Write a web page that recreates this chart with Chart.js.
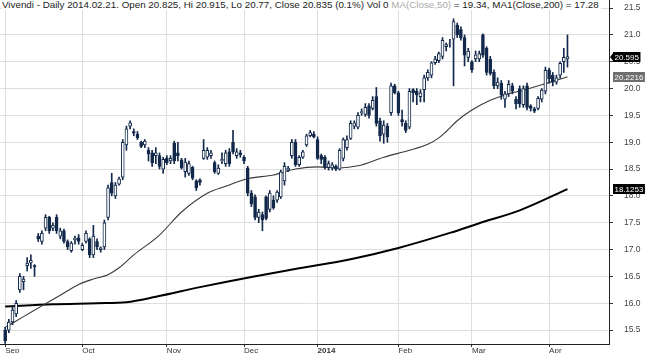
<!DOCTYPE html>
<html>
<head>
<meta charset="utf-8">
<script src="https://cdn.jsdelivr.net/npm/chart.js@4.4.1/dist/chart.umd.min.js"></script>
<style>
  html, body { margin: 0; padding: 0; background: #fff; }
  #wrap { position: relative; width: 645px; height: 353px; }
  #title {
    position: absolute; left: 2px; top: -1px;
    font: 9.8px 'Liberation Sans', Arial, sans-serif; line-height: 11px;
    color: #222; background: #fff; white-space: nowrap; padding-right: 2px;
  }
  #title .ma { color: #aaa; }
</style>
</head>
<body>
<div id="wrap">
  <canvas id="chart" width="645" height="353"></canvas>
  <div id="title">Vivendi - Daily 2014.02.21. Open 20.825, Hi 20.915, Lo 20.77, Close 20.835 (0.1%) Vol 0 <span class="ma">MA(Close,50)</span> = 19.34, MA1(Close,200) = 17.28</div>
</div>
<script>
// trading days from 2 Sep 2013 to 7 Apr 2014, index 0..153
const monthIdx = [0, 21, 44, 65, 85, 107, 127, 148];
const monthLabels = ['Sep', 'Oct', 'Nov', 'Dec', '2014', 'Feb', 'Mar', 'Apr'];
const yTicks = [15.5, 16.0, 16.5, 17.0, 17.5, 18.0, 18.5, 19.0, 19.5, 20.0, 20.5, 21.0, 21.5];

const open = [
  15.5, 15.5, 15.65, 15.8, 16.25, 16.4, 16.7, 16.75, 16.7, 17.25, 17.15, 17.4, 17.6, 17.4, 17.6, 17.25, 17.35, 17.15, 16.98, 17.18, 17.22,
  17.0, 17.15, 17.2, 16.9, 17.15, 17.0, 17.05, 17.6, 18.25, 18.0, 18.22, 18.35, 18.95, 19.3, 19.2, 19.15, 19.0, 18.95, 18.85, 18.8, 18.75, 18.75, 18.5,
  18.7, 18.65, 18.98, 18.8, 18.67, 18.45, 18.42, 18.53, 18.28, 18.3, 18.7, 18.72, 18.75, 18.62, 18.42, 18.65, 18.6, 18.82, 19.0, 18.75, 18.8,
  18.72, 18.52, 18.05, 17.98, 17.6, 17.65, 17.98, 17.75, 17.92, 17.92, 17.98, 18.28, 18.48, 18.75, 19.0, 18.58, 18.72, 18.95, 19.12, 19.15,
  19.05, 18.75, 18.72, 18.53, 18.52, 18.55, 18.5, 18.7, 18.9, 19.07, 19.3, 19.28, 19.55, 19.52, 19.68, 19.63, 19.85, 19.4, 19.15, 19.3, 19.55, 20.05,
  19.92, 19.42, 19.35, 19.28, 19.98, 19.95, 19.85, 19.98, 20.2, 20.25, 20.48, 20.52, 20.6, 20.78, 20.825, 20.92, 21.18, 21.1, 20.95, 20.58,
  20.5, 20.55, 20.55, 21.0, 20.75, 20.55, 20.3, 20.05, 20.1, 19.8, 19.9, 20.05, 19.8, 20.0, 19.7, 20.05, 19.68, 19.62, 19.63, 19.8, 19.95,
  20.35, 20.25, 20.12, 20.25, 20.5, 20.55
];
const high = [
  15.55, 15.7, 15.95, 16.05, 16.55, 16.5, 16.85, 16.9, 16.72, 17.3, 17.35, 17.65, 17.62, 17.5, 17.65, 17.4, 17.38, 17.18, 17.15, 17.25, 17.28,
  17.12, 17.35, 17.22, 17.45, 17.2, 17.05, 17.55, 18.2, 18.42, 18.25, 18.35, 19.05, 19.3, 19.4, 19.25, 19.2, 19.02, 19.05, 18.9, 18.85, 18.9, 18.8, 18.72,
  18.75, 18.75, 19.02, 19.0, 18.7, 18.7, 18.65, 18.55, 18.3, 18.32, 19.05, 18.9, 18.85, 18.65, 18.58, 18.8, 18.85, 18.88, 19.22, 18.88, 18.85,
  18.75, 18.55, 18.1, 18.02, 17.75, 17.7, 18.0, 18.1, 18.0, 18.1, 18.48, 18.62, 18.55, 19.05, 19.05, 18.75, 18.85, 19.15, 19.22, 19.2,
  19.1, 18.78, 18.75, 18.65, 18.62, 18.58, 18.88, 19.08, 19.12, 19.4, 19.4, 19.55, 19.62, 19.72, 19.72, 19.85, 20.02, 19.45, 19.4, 19.35, 20.1, 20.08,
  19.95, 19.6, 19.4, 20.0, 20.0, 20.0, 19.98, 20.25, 20.35, 20.5, 20.6, 20.68, 20.95, 20.85, 20.915, 21.3, 21.22, 21.15, 21.0, 20.75,
  20.52, 20.7, 20.7, 21.02, 20.78, 20.6, 20.35, 20.2, 20.15, 19.95, 20.15, 20.1, 19.85, 20.05, 20.05, 20.1, 19.7, 19.65, 19.85, 20.0, 20.4,
  20.38, 20.3, 20.25, 20.5, 20.75, 21.0
];
const low = [
  15.25, 15.45, 15.6, 15.75, 16.2, 16.25, 16.6, 16.65, 16.5, 17.15, 17.1, 17.35, 17.3, 17.35, 17.3, 17.2, 17.12, 17.0, 16.95, 17.1, 17.1,
  16.98, 17.12, 16.85, 16.85, 17.0, 16.95, 17.0, 17.55, 18.0, 17.95, 18.2, 18.3, 18.85, 19.25, 19.12, 19.05, 18.9, 18.9, 18.65, 18.55, 18.6, 18.5, 18.42,
  18.58, 18.6, 18.6, 18.65, 18.5, 18.35, 18.38, 18.3, 18.1, 18.2, 18.68, 18.68, 18.7, 18.42, 18.4, 18.6, 18.55, 18.55, 18.78, 18.7, 18.72,
  18.6, 18.0, 17.8, 17.55, 17.5, 17.35, 17.55, 17.7, 17.75, 17.88, 17.95, 18.2, 18.45, 18.7, 18.55, 18.55, 18.7, 18.92, 19.1, 19.08,
  18.68, 18.6, 18.5, 18.48, 18.48, 18.47, 18.48, 18.65, 18.85, 19.05, 19.25, 19.25, 19.5, 19.48, 19.45, 19.6, 19.3, 19.02, 18.98, 19.0, 19.5, 19.9,
  19.5, 19.3, 19.18, 19.25, 19.75, 19.7, 19.75, 19.75, 20.15, 20.2, 20.45, 20.48, 20.55, 20.7, 20.77, 20.05, 20.95, 20.9, 20.42, 20.5,
  20.3, 20.5, 20.5, 20.58, 20.25, 20.25, 20.0, 20.0, 19.8, 19.65, 19.85, 19.9, 19.62, 19.65, 19.65, 19.6, 19.58, 19.55, 19.6, 19.75, 19.9,
  20.1, 20.05, 20.08, 20.2, 20.3, 20.4
];
const close = [
  15.3, 15.65, 15.87, 16.0, 16.5, 16.45, 16.75, 16.8, 16.68, 17.2, 17.3, 17.6, 17.35, 17.45, 17.35, 17.35, 17.15, 17.05, 17.12, 17.22, 17.15,
  17.08, 17.3, 16.9, 17.25, 17.05, 17.03, 17.5, 18.15, 18.05, 18.2, 18.32, 19.0, 19.25, 19.36, 19.17, 19.08, 18.92, 19.02, 18.78, 18.62, 18.8, 18.55, 18.68,
  18.62, 18.7, 18.65, 18.75, 18.52, 18.63, 18.6, 18.33, 18.15, 18.25, 18.85, 18.85, 18.8, 18.45, 18.52, 18.68, 18.8, 18.6, 18.82, 18.82, 18.77,
  18.65, 18.05, 17.85, 17.6, 17.7, 17.55, 17.58, 18.05, 17.78, 18.07, 18.45, 18.55, 18.52, 19.0, 18.58, 18.72, 18.82, 19.12, 19.18, 19.1,
  18.7, 18.68, 18.53, 18.6, 18.58, 18.5, 18.85, 19.05, 19.05, 19.35, 19.36, 19.5, 19.57, 19.65, 19.5, 19.78, 19.35, 19.12, 19.32, 19.1, 20.05, 19.92,
  19.55, 19.38, 19.22, 19.95, 19.92, 19.88, 19.92, 20.2, 20.3, 20.48, 20.55, 20.65, 20.9, 20.82, 20.835, 21.25, 21.0, 20.95, 20.62, 20.7,
  20.35, 20.63, 20.65, 20.62, 20.3, 20.28, 20.05, 20.12, 19.88, 19.9, 20.08, 19.95, 19.72, 19.72, 20.0, 19.65, 19.63, 19.58, 19.82, 19.97, 20.34,
  20.18, 20.12, 20.2, 20.47, 20.58, 20.595
];

// moving averages at a few trading-day indexes
const ma50Idx = [0, 5, 10, 15, 20, 24, 28, 31, 35, 42, 48, 55, 60, 66, 73, 79, 85, 91, 96, 103, 110, 115, 118, 120, 123, 127, 132, 136, 141, 146, 153];
const ma50Val = [15.55, 15.75, 15.95, 16.15, 16.35, 16.45, 16.53, 16.66, 16.9, 17.27, 17.7, 18.05, 18.18, 18.32, 18.39, 18.5, 18.54, 18.52, 18.56, 18.72, 18.85, 18.96, 19.08, 19.2, 19.4, 19.6, 19.78, 19.88, 19.97, 20.07, 20.2216];
const ma200Idx = [0, 13, 25, 33, 41, 53, 67, 80, 94, 107, 121, 129, 140, 153];
const ma200Val = [15.94, 15.98, 16.0, 16.02, 16.12, 16.3, 16.49, 16.65, 16.82, 17.03, 17.31, 17.49, 17.73, 18.1253];

const NAVY = '#13294b';
const FONT = "'Liberation Sans', Arial, sans-serif";

const idx = close.map((_, i) => i);
const wicks = idx.map(i => ({ x: i, y: [low[i], high[i]] }));
const bodies = idx.map(i => ({ x: i, y: [open[i], close[i]] }));
const bodyFill = idx.map(i => close[i] >= open[i] ? '#ffffff' : NAVY);

// price tags on the right axis
const tagPlugin = {
  id: 'tags',
  afterDraw(chart) {
    const ctx = chart.ctx;
    const ys = chart.scales.y;
    const x0 = chart.chartArea.right;
    const tags = [
      { v: close[close.length - 1], bg: '#000', arrow: true },
      { v: ma50Val[ma50Val.length - 1], bg: '#6e6e6e', arrow: false },
      { v: ma200Val[ma200Val.length - 1], bg: '#000', arrow: false }
    ];
    ctx.save();
    ctx.font = '8px ' + FONT;
    ctx.textBaseline = 'middle';
    tags.forEach(t => {
      const y = Math.round(ys.getPixelForValue(t.v));
      const txt = String(t.v);
      const w = ctx.measureText(txt).width + 3;
      ctx.fillStyle = t.bg;
      ctx.fillRect(x0 + 4, y - 5, w, 10);
      if (t.arrow) {
        ctx.beginPath();
        ctx.moveTo(x0 + 1, y);
        ctx.lineTo(x0 + 5, y - 5);
        ctx.lineTo(x0 + 5, y + 5);
        ctx.closePath();
        ctx.fill();
      }
      ctx.fillStyle = '#fff';
      ctx.fillText(txt, x0 + 5.5, y + 0.5);
    });
    ctx.restore();
  }
};

new Chart(document.getElementById('chart'), {
  type: 'bar',
  data: {
    datasets: [
      {
        type: 'line', label: 'MA(Close,200)', order: 4,
        data: ma200Idx.map((x, k) => ({ x, y: ma200Val[k] })),
        borderColor: '#000', borderWidth: 2, pointRadius: 0,
        cubicInterpolationMode: 'monotone'
      },
      {
        type: 'line', label: 'MA(Close,50)', order: 3,
        data: ma50Idx.map((x, k) => ({ x, y: ma50Val[k] })),
        borderColor: '#3a3a3a', borderWidth: 1.1, pointRadius: 0,
        cubicInterpolationMode: 'monotone'
      },
      {
        label: 'wick', order: 2, data: wicks, grouped: false,
        backgroundColor: NAVY, barThickness: 1, borderWidth: 0
      },
      {
        label: 'body', order: 1, data: bodies, grouped: false,
        backgroundColor: bodyFill, borderColor: NAVY, borderWidth: 1,
        borderSkipped: false, barThickness: 3
      }
    ]
  },
  options: {
    responsive: false,
    animation: false,
    layout: { padding: 0 },
    plugins: { legend: { display: false }, tooltip: { enabled: false } },
    scales: {
      x: {
        type: 'linear', position: 'bottom', min: -1.4, max: 164.3,
        offset: false,
        afterBuildTicks: s => { s.ticks = monthIdx.map(v => ({ value: v })); },
        afterFit: s => { s.height = 9; s.paddingLeft = 0; s.paddingRight = 0; },
        grid: { offset: false, color: '#dedede', tickColor: '#333', tickLength: 3 },
        border: { color: '#222' },
        ticks: {
          autoSkip: false, maxRotation: 0, align: 'start', padding: -1, color: '#333',
          font: c => ({ size: 8, family: FONT, weight: c.tick && c.tick.value === 85 ? 'bold' : 'normal' }),
          callback: (v, i) => monthLabels[i]
        }
      },
      y: {
        position: 'right', min: 15.24, max: 21.65,
        afterBuildTicks: s => { s.ticks = yTicks.map(v => ({ value: v })); },
        afterFit: s => { s.width = 36; s.paddingTop = 0; s.paddingBottom = 0; },
        grid: { color: '#dedede', tickColor: '#333', tickLength: 4 },
        border: { color: '#222' },
        ticks: {
          padding: 11, color: '#444',
          font: { size: 8.5, family: FONT },
          callback: v => v.toFixed(1)
        }
      }
    }
  },
  plugins: [tagPlugin]
});
</script>
</body>
</html>
